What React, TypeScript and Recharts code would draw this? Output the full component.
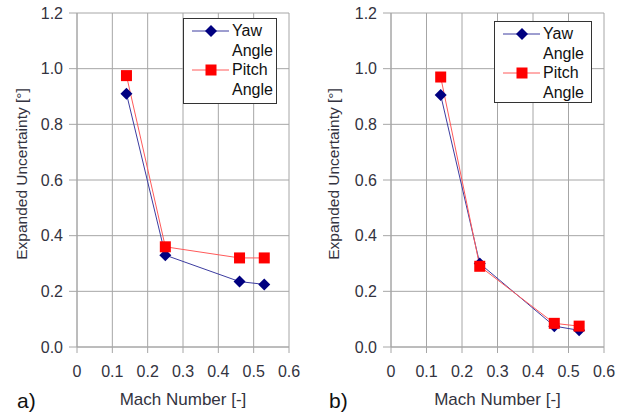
import React from 'react';
import { LineChart, Line, XAxis, YAxis, CartesianGrid } from 'recharts';

const mach = [0.14, 0.25, 0.46, 0.53];
const yawA = [0.91, 0.33, 0.235, 0.225];
const pitchA = [0.975, 0.36, 0.32, 0.32];
const yawB = [0.905, 0.30, 0.075, 0.06];
const pitchB = [0.97, 0.29, 0.085, 0.075];

const xTicks = [0, 0.1, 0.2, 0.3, 0.4, 0.5, 0.6];
const yTicks = [0, 0.2, 0.4, 0.6, 0.8, 1.0, 1.2];
const seriesNames = ['Yaw', 'Angle', 'Pitch', 'Angle'];

const YAW_DOT = '#000080';
const YAW_LINE = '#3c3ca0';
const PITCH_DOT = '#ff0000';
const PITCH_LINE = '#ff5a5a';
const GRID = '#a6a6a6';
const TXT = '#333340';
const FONT = '"Liberation Sans", Arial, sans-serif';

const Diamond = (props: any) => {
  const { cx, cy } = props;
  if (cx == null || cy == null) return null;
  return <polygon points={`${cx},${cy - 6} ${cx + 6},${cy} ${cx},${cy + 6} ${cx - 6},${cy}`} fill={YAW_DOT} />;
};

const Square = (props: any) => {
  const { cx, cy } = props;
  if (cx == null || cy == null) return null;
  return <rect x={cx - 5.5} y={cy - 5.5} width={11} height={11} fill={PITCH_DOT} />;
};

// legend is drawn as an overlay so it doesn't eat into the plot area
const LegendBox = ({ left, top, w, h }: { left: number; top: number; w: number; h: number }) => (
  <div
    style={{
      position: 'absolute',
      left,
      top,
      width: w,
      height: h,
      boxSizing: 'border-box',
      border: '1.5px solid #333',
      background: '#fff',
      fontFamily: FONT,
      fontSize: 16,
      color: '#111',
    }}
  >
    <svg width={50} height={h - 3} style={{ position: 'absolute', left: 0, top: 0 }}>
      <line x1={8} x2={45} y1={12} y2={12} stroke={YAW_LINE} strokeWidth={1} />
      <polygon points="27,6 33,12 27,18 21,12" fill={YAW_DOT} />
      <line x1={8} x2={45} y1={51} y2={51} stroke={PITCH_LINE} strokeWidth={1} />
      <rect x={21.5} y={45.5} width={11} height={11} fill={PITCH_DOT} />
    </svg>
    <div style={{ position: 'absolute', left: 48, top: 2, lineHeight: '19.5px' }}>
      {seriesNames.map((s, i) => (
        <div key={i}>{s}</div>
      ))}
    </div>
  </div>
);

type PanelProps = {
  yaw: number[];
  pitch: number[];
  tag: string;
  mLeft: number;
  mRight: number;
  legendLeft: number;
  legendTop: number;
  legendW: number;
  legendH: number;
};

const Panel = ({ yaw, pitch, tag, mLeft, mRight, legendLeft, legendTop, legendW, legendH }: PanelProps) => {
  const data = mach.map((m, i) => ({ mach: m, yaw: yaw[i], pitch: pitch[i] }));
  const plotLeft = mLeft + 60;
  const plotRight = 312 - mRight;
  const cxLabel = (plotLeft + plotRight) / 2;
  return (
    <div style={{ position: 'relative', width: 312, height: 416 }}>
      <LineChart
        width={312}
        height={416}
        data={data}
        margin={{ top: 13, right: mRight, bottom: 39, left: mLeft }}
        style={{ fontFamily: FONT }}
      >
        <CartesianGrid stroke={GRID} strokeWidth={1} />
        <XAxis
          type="number"
          dataKey="mach"
          domain={[0, 0.6]}
          ticks={xTicks}
          tickFormatter={(v: number) => (v === 0 ? '0' : String(v))}
          height={30}
          tickSize={6}
          tickMargin={13}
          stroke={GRID}
          tick={{ fill: TXT, fontSize: 16 }}
          label={{
            content: () => (
              <g>
                <text x={cxLabel} y={405} textAnchor="middle" fontSize={17} fill={TXT}>
                  Mach Number [-]
                </text>
                <text x={17} y={408} fontSize={21} fill="#111">
                  {tag}
                </text>
              </g>
            ),
          }}
        />
        <YAxis
          type="number"
          domain={[0, 1.2]}
          ticks={yTicks}
          tickFormatter={(v: number) => v.toFixed(1)}
          width={60}
          tickSize={8}
          tickMargin={6}
          stroke={GRID}
          tick={{ fill: TXT, fontSize: 16 }}
          label={{
            content: () => (
              <text transform="translate(27,174) rotate(-90)" textAnchor="middle" fontSize={15.5} fill={TXT}>
                Expanded Uncertainty [°]
              </text>
            ),
          }}
        />
        <Line
          dataKey="yaw"
          name="Yaw Angle"
          stroke={YAW_LINE}
          strokeWidth={1}
          dot={<Diamond />}
          isAnimationActive={false}
        />
        <Line
          dataKey="pitch"
          name="Pitch Angle"
          stroke={PITCH_LINE}
          strokeWidth={1}
          dot={<Square />}
          isAnimationActive={false}
        />
      </LineChart>
      <LegendBox left={legendLeft} top={legendTop} w={legendW} h={legendH} />
    </div>
  );
};

export default function App() {
  return (
    <div style={{ position: 'absolute', left: 0, top: 0, width: 624, height: 416, background: '#fff', display: 'flex' }}>
      <Panel yaw={yawA} pitch={pitchA} tag="a)" mLeft={17} mRight={23} legendLeft={183} legendTop={18} legendW={94} legendH={86} />
      <Panel yaw={yawB} pitch={pitchB} tag="b)" mLeft={19} mRight={20} legendLeft={182} legendTop={21} legendW={98} legendH={82} />
    </div>
  );
}
